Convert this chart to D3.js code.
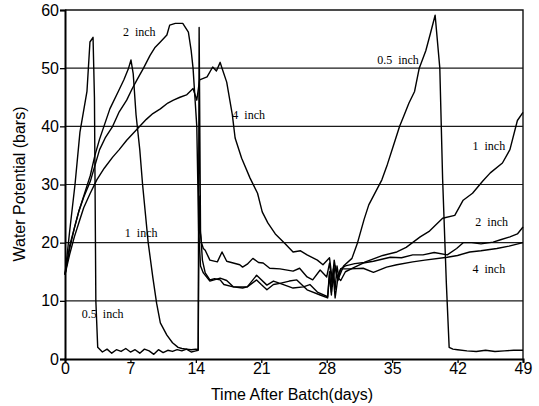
<!DOCTYPE html>
<html>
<head>
<meta charset="utf-8">
<script src="https://cdn.jsdelivr.net/npm/d3@7"></script>
<style>
  html, body { margin: 0; padding: 0; background: #fff; }
  svg { display: block; }
</style>
</head>
<body>
<div id="chart"></div>
<script>
// Data: water potential (bars) vs days after batch
const xTicks = [0, 7, 14, 21, 28, 35, 42, 49];
const yTicks = [0, 10, 20, 30, 40, 50, 60];

const halfInchDays = [0, 0.5, 1.07, 1.6, 2.35, 2.67, 3.0, 3.15, 3.3, 3.5, 4, 4.5, 5, 5.5, 6, 6.5, 7, 7.5, 8, 8.5, 9, 9.5, 10, 10.5, 11, 11.5, 12, 12.5, 13, 13.5, 14, 14.25, 14.35, 14.5, 14.7, 15, 15.5, 16, 16.6, 17, 18, 19, 19.5, 20.5, 21, 21.6, 22.3, 23, 24, 24.8, 25.9, 27.3, 28.1, 28.3, 28.5, 28.7, 28.9, 29.1, 29.3, 29.8, 30.7, 31.3, 32, 32.5, 33.9, 34.5, 35.2, 35.8, 36.3, 36.8, 37.4, 37.9, 38.6, 39.1, 39.6, 40.1, 40.4, 40.8, 41.1, 41.5, 42, 43, 44, 45, 46, 47, 48, 49];
const halfInchValues = [14.5, 22, 30, 39, 46, 54.5, 55.3, 45, 10, 2, 1.2, 1.7, 1.0, 1.6, 1.3, 1.8, 1.2, 1.6, 1.0, 1.7, 1.4, 0.8, 1.6, 1.1, 1.5, 1.3, 1.6, 1.4, 1.7, 1.2, 1.4, 1.5, 57, 22, 17, 14.8, 13.6, 13.8, 13.6, 12.8, 12.4, 12.2, 12.4, 13.6, 12.8, 11.9, 12.8, 13, 13.4, 13.6, 11.9, 11, 10.5, 14.5, 11, 15.5, 12, 16, 14, 16, 17.3, 20, 24, 26.5, 30.8, 33.5, 37, 40, 42, 44, 46, 50, 53, 56, 59.1, 50, 31, 13, 2, 1.7, 1.6, 1.4, 1.3, 1.5, 1.3, 1.4, 1.5, 1.5];

const oneInchDays = [0, 0.5, 1, 1.5, 2, 2.7, 3.2, 3.7, 4.8, 5.7, 6.3, 6.8, 7.06, 7.3, 7.6, 8.0, 8.3, 8.9, 9.4, 9.8, 10.2, 10.9, 11.5, 12.1, 12.5, 13, 13.5, 14, 14.25, 14.35, 14.45, 14.6, 14.8, 15, 15.5, 16.3, 16.8, 17.3, 18, 18.7, 19, 19.5, 20.1, 20.7, 21.2, 21.9, 23, 24.4, 25.1, 25.9, 26.5, 27.3, 28, 28.3, 28.6, 28.9, 29.2, 29.5, 30, 31, 32, 33, 34, 35.5, 36.5, 38, 39, 40.4, 41.7, 42.6, 43.6, 44.7, 45.5, 46.8, 47.6, 48.4, 49];
const oneInchValues = [14.5, 19.5, 22.5, 25.5, 28, 31.5, 35, 37.8, 43, 46, 48, 50, 51.4, 49, 42, 36, 30, 20, 14, 9.6, 6.2, 4.1, 2.8, 2, 1.8, 1.7, 1.6, 1.7, 1.6, 28, 22, 20, 19, 18.7, 17, 16.7, 18.4, 16.8, 16.5, 16.2, 15.8, 16.3, 17.3, 16.6, 16.5, 15.6, 15.5, 15.1, 15.6, 14.1, 13.6, 15.3, 14.1, 16.5, 12.5, 16, 13.5, 15.5, 16, 16.4, 16.6, 17.2, 17.8, 18.4, 19.2, 21, 22, 24.2, 24.7, 27.3, 28.5, 30.6, 32, 33.7, 36, 41, 42.4];

const twoInchDays = [0, 0.5, 1, 1.5, 2, 2.7, 3.7, 4.3, 5.1, 5.8, 6.6, 7.2, 7.7, 8.4, 9.1, 9.6, 10.2, 10.9, 11.2, 11.8, 12.6, 13.2, 13.5, 13.7, 13.9, 14.1, 14.3, 14.5, 14.8, 15.5, 16.6, 17.3, 18, 19.5, 20.5, 21.6, 22.3, 23, 24.4, 25.5, 26.2, 27, 28.1, 28.3, 28.5, 28.7, 28.9, 29.2, 29.5, 30, 31, 31.9, 33, 34.8, 36, 37.2, 38.3, 39.5, 40.9, 41.9, 42.6, 43.5, 44.5, 45.8, 46.6, 47.6, 48.4, 49];
const twoInchValues = [14.5, 19, 22.5, 25.5, 27.8, 30.5, 36, 38, 40, 42.5, 44.5, 46.5, 48, 50, 52.2, 53.5, 54.5, 55.7, 57.4, 57.7, 57.7, 56.2, 53, 50, 45, 40, 22, 16, 14.8, 13.4, 13.9, 13.5, 12.4, 12.4, 14.4, 12.7, 13.4, 13, 12.2, 12.4, 12.8, 11.5, 10.7, 15, 11.5, 14.5, 10.5, 14, 13.5, 15, 15.8, 16.5, 16.8, 17.5, 17.4, 17.9, 17.9, 18.3, 17.9, 19, 20, 20, 19.8, 20.1, 20.5, 21, 21.5, 22.7];

const fourInchDays = [0, 0.5, 1, 1.5, 2, 2.7, 3.4, 4.2, 5.1, 5.8, 6.6, 7.3, 8, 8.7, 9.4, 10.2, 11, 11.6, 12.3, 13, 13.7, 14.1, 14.4, 15.2, 15.8, 16.2, 16.6, 16.8, 17.3, 17.9, 18.2, 18.9, 19.8, 20.6, 21.1, 21.7, 22.5, 23.5, 24.4, 25.2, 25.9, 27, 27.6, 28.3, 28.6, 28.8, 29.1, 29.5, 30.5, 31.9, 33, 34.4, 35.5, 37.2, 38.5, 40.9, 42, 43.3, 44.5, 46.2, 47.5, 49];
const fourInchValues = [14.5, 18, 21, 23.5, 26, 28.5, 30.8, 32.8, 34.7, 36, 37.6, 38.8, 40, 41.2, 42.2, 43, 44, 44.5, 45, 45.4, 46.5, 44.5, 48, 48.5, 50.2, 49.5, 51, 50, 47.6, 42, 38, 34.5, 31.1, 28.5, 25.3, 23.4, 21.5, 19.9, 18.4, 18.6, 17.9, 17, 16.2, 17.4, 13.5, 17, 14, 15.5, 15.5, 15.6, 14.9, 15.8, 16.2, 16.7, 17, 17.5, 17.8, 18.4, 18.6, 19, 19.4, 20];

const seriesNames = ['0.5 inch', '1 inch', '2 inch', '4 inch'];
const seriesDays = [halfInchDays, oneInchDays, twoInchDays, fourInchDays];
const seriesValues = [halfInchValues, oneInchValues, twoInchValues, fourInchValues];

// curve labels anchored in data units (day, bars)
const labelTexts = ['2  inch', '4  inch', '0.5  inch', '1  inch', '1  inch', '0.5  inch', '2  inch', '4  inch'];
const labelDays = [6.2, 17.9, 33.4, 43.6, 6.4, 1.8, 43.9, 43.6];
const labelValues = [55.5, 41.2, 50.7, 35.9, 21, 7, 22.9, 14.8];

const W = 539, H = 406;
const margin = { top: 10, right: 16, bottom: 47, left: 65 };
const width = W - margin.left - margin.right;
const height = H - margin.top - margin.bottom;

const svg = d3.select('#chart').append('svg')
  .attr('width', W).attr('height', H);
const g = svg.append('g')
  .attr('transform', `translate(${margin.left},${margin.top})`);

const x = d3.scaleLinear().domain([0, 49]).range([0, width]);
const y = d3.scaleLinear().domain([0, 60]).range([height, 0]);

// gridlines
g.selectAll('.grid')
  .data(yTicks.filter(v => v > 0 && v < 60))
  .enter().append('line')
  .attr('x1', 0).attr('x2', width)
  .attr('y1', d => y(d)).attr('y2', d => y(d))
  .attr('stroke', '#1a1a1a').attr('stroke-width', 1.1);

// frame (top and right)
g.append('path')
  .attr('d', `M0,${y(60)}H${x(49)}V${y(0)}`)
  .attr('fill', 'none').attr('stroke', '#111').attr('stroke-width', 1.4);

// axes
const xAxis = d3.axisBottom(x).tickValues(xTicks).tickSize(4).tickPadding(0);
const xg = g.append('g').attr('transform', `translate(0,${height})`).call(xAxis);
xg.select('.domain').attr('stroke', '#000').attr('stroke-width', 2);
xg.selectAll('.tick line').attr('stroke', '#000').attr('stroke-width', 1.3);
xg.selectAll('text').attr('font-family', 'Liberation Sans, Arial, sans-serif')
  .attr('font-size', 16).attr('fill', '#000');

const yAxis = d3.axisLeft(y).tickValues(yTicks).tickSize(5).tickPadding(1);
const yg = g.append('g').call(yAxis);
yg.select('.domain').attr('stroke', '#000').attr('stroke-width', 2);
yg.selectAll('.tick line').attr('stroke', '#000').attr('stroke-width', 1.3);
yg.selectAll('text').attr('font-family', 'Liberation Sans, Arial, sans-serif')
  .attr('font-size', 16).attr('fill', '#000');

// series
const line = d3.line()
  .x(d => x(d[0]))
  .y(d => y(d[1]));

seriesNames.forEach((name, i) => {
  const pts = seriesDays[i].map((d, j) => [d, seriesValues[i][j]]);
  g.append('path')
    .datum(pts)
    .attr('fill', 'none')
    .attr('stroke', '#000')
    .attr('stroke-width', 1.4)
    .attr('stroke-linejoin', 'round')
    .attr('d', line);
});

// curve labels
g.selectAll('.lbl')
  .data(labelTexts)
  .enter().append('text')
  .attr('x', (d, i) => x(labelDays[i]))
  .attr('y', (d, i) => y(labelValues[i]))
  .attr('font-family', 'Liberation Serif, Times New Roman, serif')
  .attr('font-size', 12)
  .attr('fill', '#000')
  .style('white-space', 'pre')
  .text(d => d);

// axis titles
svg.append('text')
  .attr('x', margin.left + x(24.5) - 2)
  .attr('y', 400)
  .attr('text-anchor', 'middle')
  .attr('font-family', 'Liberation Sans, Arial, sans-serif')
  .attr('font-size', 16)
  .text('Time After Batch(days)');

svg.append('text')
  .attr('transform', 'translate(25,184) rotate(-90)')
  .attr('text-anchor', 'middle')
  .attr('font-family', 'Liberation Sans, Arial, sans-serif')
  .attr('font-size', 16)
  .text('Water Potential (bars)');
</script>
</body>
</html>
